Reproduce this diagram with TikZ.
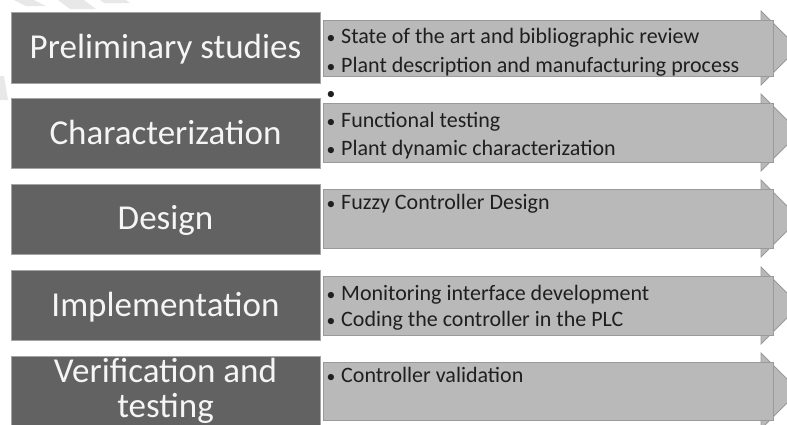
\documentclass[tikz,border=0pt]{standalone}
\usepackage{fontspec}
\usepackage{graphicx}
\setmainfont{Carlito}
\definecolor{darkbox}{HTML}{626262}
\definecolor{darkedge}{HTML}{A4A4A4}
\definecolor{lightfill}{HTML}{B9B9B9}
\definecolor{lightedge}{HTML}{9A9A9A}
\definecolor{wmark}{HTML}{E8E8E8}
\newcommand\bul{\makebox[16pt][l]{\hspace{1.5pt}\scalebox{0.8}{•}}}
\newcommand\phasearrow[2]{%
  \pgfmathsetmacro\hh{(#2-#1)/2+9}%
  \pgfmathsetmacro\cc{(#1+#2)/2}%
  \fill[lightfill,draw=lightedge,line width=0.8pt] (761,#1-9) -- (761+\hh,\cc) -- (761,#2+9) -- cycle;
  \fill[lightfill,draw=lightedge,line width=0.8pt] (323,#1) rectangle (773,#2);
}
\begin{document}
\begin{tikzpicture}[x=1pt,y=-1pt,
  phasebox/.style={fill=darkbox,draw=darkedge,line width=1pt},
  phasetext/.style={anchor=base,text=white!96!black,font=\fontsize{35}{35}\selectfont,inner sep=0pt},
  itemtext/.style={anchor=base west,text=black!88,font=\fontsize{22}{26}\selectfont,inner sep=0pt}]
\useasboundingbox (0,0) rectangle (787,424);
\clip (0,0) rectangle (787,424);
\fill[white] (0,0) rectangle (787,424);
% faint watermark strokes
\fill[wmark] (14,0) -- (34,0) -- (46,6) -- (26,6) -- cycle;
\fill[wmark] (58,0) -- (84,0) -- (96,9) -- (70,9) -- cycle;
\fill[wmark] (100,0) -- (126,0) -- (130,3) -- (104,3) -- cycle;
\fill[wmark] (0,76) -- (4,76) -- (8,100) -- (0,100) -- cycle;
% dark phase boxes
\draw[phasebox] (11,12.5) rectangle (320,83);
\draw[phasebox] (11,98) rectangle (320,168.5);
\draw[phasebox] (11,184) rectangle (320,254.5);
\draw[phasebox] (11,270) rectangle (320,340.5);
\draw[phasebox] (11,356) rectangle (320,430);
% light arrows
\phasearrow{20}{76}
\phasearrow{103}{162}
\phasearrow{189}{248}
\phasearrow{276}{335}
\phasearrow{362}{420}
% phase titles
\node[phasetext] (p1) at (165.5,58) {Preliminary studies};
\node[phasetext] (p2) at (165.5,144) {Characterization};
\node[phasetext] (p3) at (165.5,229) {Design};
\node[phasetext] (p4) at (165.5,316) {Implementation};
\node[phasetext] (p5a) at (165.5,382) {Verification and};
\node[phasetext] (p5b) at (165.5,417) {testing};
% item texts
\node[itemtext] (i1a) at (325,43) {\bul State of the art and bibliographic review};
\node[itemtext] (i1b) at (325,72) {\bul Plant description and manufacturing process};
\node[itemtext] (i1c) at (325,99) {\bul};
\node[itemtext] (i2a) at (325,127) {\bul Functional testing};
\node[itemtext] (i2b) at (325,155) {\bul Plant dynamic characterization};
\node[itemtext] (i3a) at (325,209) {\bul Fuzzy Controller Design};
\node[itemtext] (i4a) at (325,300) {\bul Monitoring interface development};
\node[itemtext] (i4b) at (325,326) {\bul Coding the controller in the PLC};
\node[itemtext] (i5a) at (325,382) {\bul Controller validation};
\end{tikzpicture}
\end{document}
